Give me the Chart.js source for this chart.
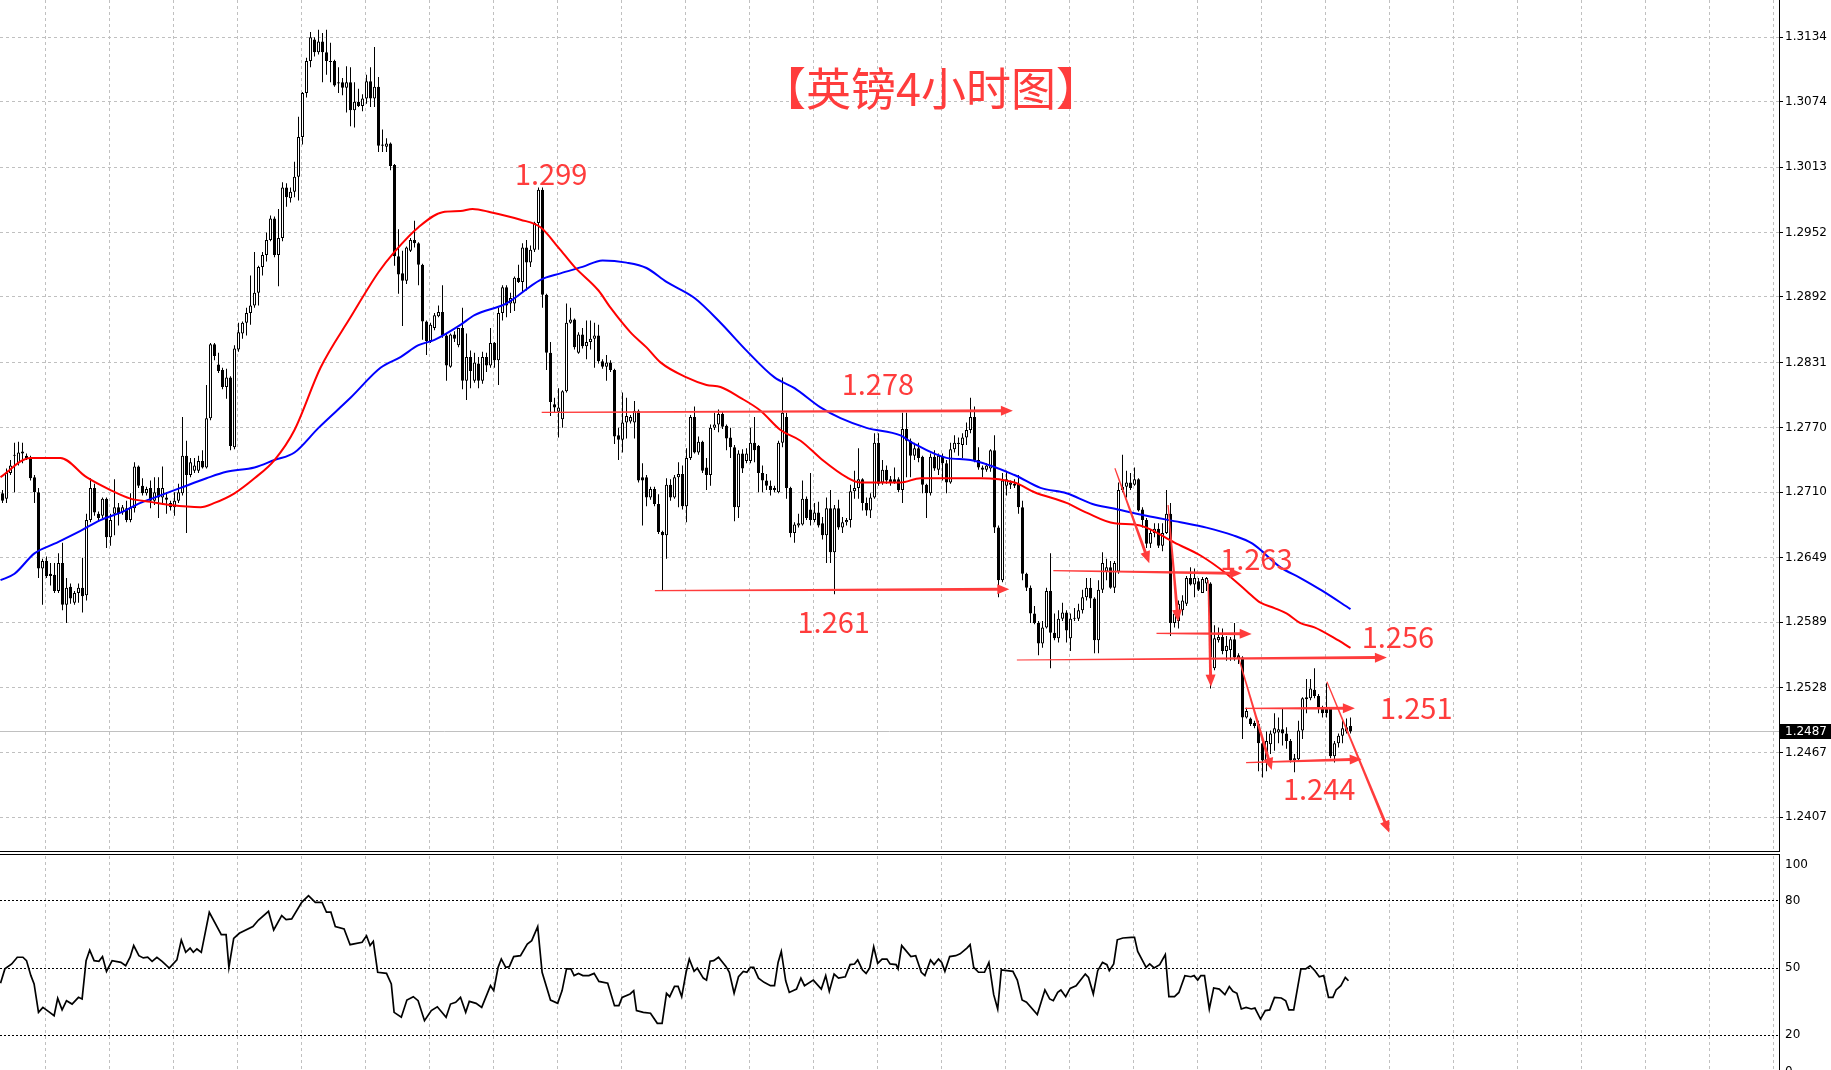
<!DOCTYPE html>
<html lang="zh-CN">
<head>
<meta charset="utf-8">
<title>英镑4小时图</title>
<script src="https://cdn.jsdelivr.net/npm/chart.js@4.4.1/dist/chart.umd.min.js"></script>
<style>
  html, body { margin: 0; padding: 0; background: #fff; overflow: hidden; }
  canvas { display: block; }
  #mainBox { position: absolute; left: 0; top: 0; }
  #rsiBox { position: absolute; left: 0; top: 853px; }
</style>
</head>
<body>
<div id="mainBox"><canvas id="priceChart" width="1831" height="852"></canvas></div>
<div id="rsiBox"><canvas id="rsiChart" width="1831" height="227"></canvas></div>
<script>
'use strict';

// GBPUSD H4 candles (one entry per bar)
const opens = [
  1.2709,1.2704,1.2728,1.2744,1.2737,1.2746,1.2744,1.2742,1.2724,1.2710,
  1.2639,1.2646,1.2634,1.2633,1.2618,1.2644,1.2605,1.2622,1.2607,1.2616,
  1.2621,1.2614,1.2684,1.2714,1.2690,1.2688,1.2704,1.2668,1.2690,1.2696,
  1.2691,1.2695,1.2684,1.2695,1.2734,1.2716,1.2709,1.2714,1.2702,1.2714,
  1.2705,1.2705,1.2700,1.2696,1.2702,1.2709,1.2744,1.2726,1.2730,1.2730,
  1.2739,1.2733,1.2779,1.2848,1.2829,1.2824,1.2808,1.2817,1.2752,1.2843,
  1.2858,1.2868,1.2877,1.2884,1.2896,1.2920,1.2931,1.2945,1.2965,1.2931,
  1.2947,1.2994,1.2984,1.2990,1.3004,1.3041,1.3082,1.3112,1.3132,1.3120,
  1.3130,1.3120,1.3112,1.3112,1.3092,1.3092,1.3087,1.3092,1.3066,1.3074,
  1.3070,1.3077,1.3093,1.3077,1.3088,1.3034,1.3032,1.3035,1.3015,1.2930,
  1.2914,1.2907,1.2935,1.2945,1.2942,1.2922,1.2869,1.2851,1.2863,1.2874,
  1.2878,1.2856,1.2827,1.2857,1.2847,1.2863,1.2814,1.2836,1.2814,1.2830,
  1.2814,1.2836,1.2828,1.2849,1.2833,1.2877,1.2901,1.2886,1.2886,1.2910,
  1.2906,1.2938,1.2924,1.2936,1.2961,1.2992,1.2894,1.2840,1.2792,1.2785,
  1.2778,1.2804,1.2868,1.2871,1.2840,1.2857,1.2846,1.2850,1.2853,1.2856,
  1.2832,1.2827,1.2831,1.2824,1.2763,1.2759,1.2775,1.2776,1.2775,1.2786,
  1.2724,1.2724,1.2705,1.2713,1.2699,1.2673,1.2670,1.2717,1.2705,1.2724,
  1.2727,1.2697,1.2742,1.2780,1.2747,1.2757,1.2733,1.2726,1.2770,1.2773,
  1.2783,1.2772,1.2761,1.2752,1.2696,1.2746,1.2739,1.2739,1.2756,1.2753,
  1.2728,1.2721,1.2716,1.2712,1.2710,1.2756,1.2780,1.2714,1.2672,1.2679,
  1.2680,1.2704,1.2694,1.2684,1.2691,1.2681,1.2670,1.2695,1.2654,1.2695,
  1.2677,1.2682,1.2684,1.2711,1.2714,1.2722,1.2700,1.2693,1.2705,1.2756,
  1.2719,1.2731,1.2722,1.2722,1.2722,1.2712,1.2769,1.2758,1.2744,1.2751,
  1.2743,1.2717,1.2709,1.2743,1.2731,1.2743,1.2737,1.2719,1.2750,1.2756,
  1.2754,1.2761,1.2768,1.2780,1.2740,1.2733,1.2731,1.2732,1.2749,1.2677,
  1.2628,1.2716,1.2717,1.2716,1.2718,1.2696,1.2634,1.2621,1.2597,1.2588,
  1.2569,1.2584,1.2618,1.2579,1.2574,1.2592,1.2598,1.2574,1.2592,1.2592,
  1.2600,1.2612,1.2621,1.2611,1.2572,1.2619,1.2636,1.2640,1.2621,1.2636,
  1.2712,1.2715,1.2719,1.2717,1.2722,1.2694,1.2684,1.2662,1.2672,1.2676,
  1.2660,1.2672,1.2690,1.2588,1.2590,1.2600,1.2606,1.2630,1.2624,1.2627,
  1.2616,1.2625,1.2625,1.2546,1.2572,1.2575,1.2562,1.2563,1.2573,1.2558,
  1.2556,1.2500,1.2499,1.2495,1.2494,1.2476,1.2460,1.2475,1.2485,1.2486,
  1.2489,1.2485,1.2478,1.2460,1.2461,1.2488,1.2517,1.2518,1.2526,1.2520,
  1.2509,1.2508,1.2508,1.2464,1.2476,1.2483,1.2487,1.2492
];
const highs = [
  1.2712,1.2732,1.2740,1.2756,1.2757,1.2756,1.2746,1.2744,1.2726,1.2714,
  1.2648,1.2650,1.2644,1.2644,1.2653,1.2663,1.2630,1.2625,1.2618,1.2625,
  1.2649,1.2690,1.2723,1.2718,1.2692,1.2705,1.2705,1.2690,1.2722,1.2700,
  1.2698,1.2702,1.2709,1.2738,1.2735,1.2723,1.2715,1.2721,1.2724,1.2724,
  1.2734,1.2710,1.2702,1.2710,1.2718,1.2780,1.2758,1.2742,1.2742,1.2744,
  1.2749,1.2810,1.2849,1.2849,1.2840,1.2826,1.2825,1.2818,1.2847,1.2868,
  1.2869,1.2882,1.2912,1.2934,1.2921,1.2934,1.2952,1.2968,1.2967,1.2974,
  1.2999,1.2998,1.2994,1.3018,1.3060,1.3083,1.3115,1.3139,1.3134,1.3141,
  1.3138,1.3141,1.3129,1.3113,1.3106,1.3096,1.3107,1.3106,1.3092,1.3086,
  1.3081,1.3099,1.3106,1.3125,1.3097,1.3048,1.3040,1.3036,1.3016,1.2955,
  1.2935,1.2939,1.2947,1.2963,1.2943,1.2923,1.2870,1.2868,1.2877,1.2884,
  1.2903,1.2858,1.2858,1.2860,1.2863,1.2882,1.2858,1.2842,1.2840,1.2836,
  1.2841,1.2840,1.2863,1.2850,1.2882,1.2903,1.2903,1.2896,1.2911,1.2922,
  1.2942,1.2945,1.2940,1.2962,1.2994,1.2994,1.2895,1.2850,1.2798,1.2807,
  1.2805,1.2886,1.2882,1.2872,1.2859,1.2863,1.2870,1.2870,1.2868,1.2866,
  1.2834,1.2838,1.2833,1.2825,1.2770,1.2803,1.2798,1.2782,1.2795,1.2787,
  1.2737,1.2726,1.2715,1.2715,1.2708,1.2674,1.2723,1.2722,1.2726,1.2738,
  1.2735,1.2751,1.2782,1.2790,1.2762,1.2758,1.2742,1.2773,1.2784,1.2787,
  1.2785,1.2773,1.2770,1.2754,1.2749,1.2750,1.2751,1.2770,1.2780,1.2754,
  1.2735,1.2727,1.2721,1.2716,1.2758,1.2817,1.2784,1.2715,1.2682,1.2690,
  1.2721,1.2706,1.2728,1.2700,1.2701,1.2687,1.2705,1.2712,1.2698,1.2703,
  1.2687,1.2686,1.2717,1.2730,1.2751,1.2723,1.2705,1.2709,1.2765,1.2765,
  1.2740,1.2735,1.2725,1.2733,1.2724,1.2784,1.2784,1.2760,1.2756,1.2756,
  1.2744,1.2718,1.2746,1.2749,1.2746,1.2746,1.2740,1.2756,1.2763,1.2761,
  1.2765,1.2775,1.2798,1.2790,1.2752,1.2735,1.2737,1.2750,1.2763,1.2679,
  1.2728,1.2730,1.2721,1.2722,1.2726,1.2702,1.2635,1.2623,1.2604,1.2590,
  1.2590,1.2621,1.2653,1.2597,1.2600,1.2607,1.2600,1.2597,1.2602,1.2606,
  1.2619,1.2630,1.2630,1.2612,1.2628,1.2654,1.2648,1.2646,1.2646,1.2719,
  1.2745,1.2730,1.2728,1.2733,1.2723,1.2696,1.2686,1.2675,1.2681,1.2681,
  1.2681,1.2712,1.2700,1.2600,1.2609,1.2614,1.2632,1.2640,1.2639,1.2630,
  1.2631,1.2631,1.2626,1.2586,1.2584,1.2583,1.2576,1.2575,1.2588,1.2560,
  1.2557,1.2509,1.2500,1.2497,1.2497,1.2478,1.2487,1.2488,1.2504,1.2500,
  1.2508,1.2491,1.2480,1.2466,1.2497,1.2519,1.2536,1.2536,1.2546,1.2522,
  1.2511,1.2532,1.2509,1.2478,1.2485,1.2497,1.2499,1.2500
];
const lows = [
  1.2700,1.2700,1.2726,1.2710,1.2735,1.2737,1.2740,1.2721,1.2700,1.2630,
  1.2605,1.2630,1.2623,1.2616,1.2616,1.2600,1.2588,1.2606,1.2605,1.2607,
  1.2598,1.2609,1.2682,1.2688,1.2684,1.2686,1.2658,1.2660,1.2670,1.2679,
  1.2689,1.2682,1.2682,1.2691,1.2714,1.2707,1.2707,1.2695,1.2698,1.2686,
  1.2698,1.2690,1.2693,1.2688,1.2700,1.2707,1.2672,1.2724,1.2728,1.2728,
  1.2732,1.2732,1.2777,1.2833,1.2821,1.2806,1.2797,1.2749,1.2750,1.2841,
  1.2853,1.2856,1.2866,1.2882,1.2884,1.2912,1.2925,1.2944,1.2929,1.2902,
  1.2944,1.2976,1.2980,1.2985,1.2982,1.3034,1.3078,1.3106,1.3116,1.3118,
  1.3092,1.3099,1.3092,1.3088,1.3082,1.3080,1.3064,1.3051,1.3050,1.3069,
  1.3065,1.3072,1.3069,1.3069,1.3027,1.3027,1.3027,1.3010,1.2921,1.2895,
  1.2865,1.2904,1.2934,1.2938,1.2903,1.2852,1.2838,1.2849,1.2861,1.2873,
  1.2854,1.2814,1.2826,1.2850,1.2845,1.2806,1.2796,1.2807,1.2812,1.2807,
  1.2811,1.2822,1.2826,1.2826,1.2810,1.2870,1.2873,1.2877,1.2879,1.2905,
  1.2896,1.2898,1.2920,1.2934,1.2936,1.2882,1.2824,1.2781,1.2784,1.2761,
  1.2770,1.2803,1.2867,1.2843,1.2839,1.2844,1.2834,1.2843,1.2826,1.2830,
  1.2825,1.2814,1.2822,1.2755,1.2740,1.2747,1.2760,1.2774,1.2760,1.2719,
  1.2679,1.2697,1.2703,1.2697,1.2671,1.2618,1.2648,1.2702,1.2704,1.2696,
  1.2694,1.2682,1.2740,1.2746,1.2745,1.2728,1.2712,1.2716,1.2768,1.2766,
  1.2769,1.2749,1.2742,1.2683,1.2686,1.2728,1.2737,1.2737,1.2738,1.2710,
  1.2710,1.2712,1.2707,1.2710,1.2709,1.2752,1.2704,1.2668,1.2663,1.2677,
  1.2679,1.2684,1.2679,1.2682,1.2677,1.2666,1.2644,1.2644,1.2615,1.2675,
  1.2672,1.2679,1.2677,1.2704,1.2704,1.2693,1.2688,1.2686,1.2704,1.2716,
  1.2717,1.2718,1.2716,1.2718,1.2710,1.2700,1.2724,1.2724,1.2740,1.2738,
  1.2709,1.2686,1.2707,1.2730,1.2726,1.2721,1.2709,1.2718,1.2747,1.2744,
  1.2742,1.2754,1.2765,1.2738,1.2731,1.2724,1.2729,1.2729,1.2672,1.2612,
  1.2626,1.2707,1.2713,1.2714,1.2690,1.2628,1.2618,1.2588,1.2587,1.2558,
  1.2565,1.2583,1.2546,1.2572,1.2570,1.2590,1.2570,1.2562,1.2590,1.2590,
  1.2597,1.2609,1.2602,1.2560,1.2560,1.2616,1.2628,1.2620,1.2616,1.2634,
  1.2710,1.2705,1.2712,1.2716,1.2692,1.2677,1.2658,1.2658,1.2668,1.2658,
  1.2655,1.2671,1.2576,1.2584,1.2583,1.2595,1.2604,1.2623,1.2612,1.2618,
  1.2616,1.2618,1.2527,1.2544,1.2570,1.2559,1.2553,1.2553,1.2553,1.2550,
  1.2480,1.2499,1.2492,1.2490,1.2450,1.2444,1.2450,1.2466,1.2469,1.2476,
  1.2474,1.2471,1.2458,1.2449,1.2459,1.2480,1.2504,1.2516,1.2518,1.2504,
  1.2500,1.2500,1.2462,1.2458,1.2472,1.2476,1.2485,1.2485
];
const closes = [
  1.2702,1.2728,1.2735,1.2745,1.2747,1.2748,1.2742,1.2723,1.2710,1.2639,
  1.2646,1.2632,1.2632,1.2618,1.2644,1.2605,1.2621,1.2611,1.2616,1.2621,
  1.2613,1.2684,1.2714,1.2691,1.2686,1.2704,1.2668,1.2684,1.2696,1.2690,
  1.2696,1.2684,1.2696,1.2734,1.2716,1.2709,1.2713,1.2702,1.2710,1.2705,
  1.2714,1.2703,1.2696,1.2702,1.2710,1.2744,1.2726,1.2738,1.2735,1.2739,
  1.2733,1.2779,1.2848,1.2837,1.2823,1.2808,1.2817,1.2753,1.2844,1.2859,
  1.2868,1.2877,1.2884,1.2896,1.2920,1.2931,1.2945,1.2965,1.2931,1.2947,
  1.2994,1.2985,1.2990,1.3004,1.3041,1.3082,1.3112,1.3134,1.3120,1.3130,
  1.3120,1.3112,1.3111,1.3089,1.3091,1.3087,1.3092,1.3066,1.3074,1.3070,
  1.3077,1.3093,1.3077,1.3088,1.3033,1.3033,1.3035,1.3014,1.2930,1.2913,
  1.2907,1.2938,1.2945,1.2942,1.2922,1.2869,1.2851,1.2866,1.2875,1.2878,
  1.2856,1.2828,1.2857,1.2853,1.2863,1.2814,1.2836,1.2823,1.2831,1.2814,
  1.2836,1.2828,1.2849,1.2833,1.2877,1.2901,1.2884,1.2891,1.2910,1.2906,
  1.2938,1.2924,1.2936,1.2961,1.2992,1.2894,1.2840,1.2794,1.2789,1.2789,
  1.2804,1.2868,1.2871,1.2845,1.2857,1.2846,1.2850,1.2853,1.2856,1.2832,
  1.2827,1.2831,1.2824,1.2762,1.2759,1.2775,1.2781,1.2780,1.2786,1.2721,
  1.2721,1.2705,1.2713,1.2699,1.2673,1.2670,1.2717,1.2705,1.2724,1.2727,
  1.2697,1.2742,1.2780,1.2747,1.2757,1.2730,1.2726,1.2770,1.2773,1.2783,
  1.2771,1.2760,1.2752,1.2696,1.2746,1.2732,1.2746,1.2756,1.2749,1.2728,
  1.2721,1.2716,1.2712,1.2714,1.2756,1.2784,1.2714,1.2672,1.2680,1.2681,
  1.2704,1.2686,1.2684,1.2691,1.2679,1.2670,1.2695,1.2654,1.2695,1.2677,
  1.2682,1.2684,1.2711,1.2714,1.2722,1.2700,1.2693,1.2705,1.2756,1.2718,
  1.2731,1.2721,1.2719,1.2719,1.2712,1.2769,1.2758,1.2744,1.2751,1.2742,
  1.2717,1.2709,1.2743,1.2732,1.2744,1.2737,1.2719,1.2750,1.2756,1.2755,
  1.2761,1.2768,1.2780,1.2740,1.2733,1.2731,1.2735,1.2749,1.2677,1.2628,
  1.2721,1.2722,1.2719,1.2718,1.2696,1.2634,1.2621,1.2597,1.2588,1.2569,
  1.2584,1.2618,1.2579,1.2574,1.2592,1.2598,1.2581,1.2592,1.2593,1.2600,
  1.2612,1.2621,1.2611,1.2572,1.2619,1.2644,1.2640,1.2621,1.2644,1.2712,
  1.2715,1.2719,1.2714,1.2722,1.2693,1.2684,1.2662,1.2672,1.2676,1.2660,
  1.2672,1.2690,1.2588,1.2597,1.2606,1.2609,1.2630,1.2624,1.2630,1.2619,
  1.2629,1.2630,1.2556,1.2574,1.2575,1.2562,1.2567,1.2573,1.2556,1.2555,
  1.2500,1.2506,1.2494,1.2492,1.2476,1.2460,1.2478,1.2485,1.2490,1.2489,
  1.2485,1.2478,1.2460,1.2462,1.2488,1.2518,1.2519,1.2527,1.2520,1.2508,
  1.2504,1.2504,1.2464,1.2476,1.2483,1.2490,1.2491,1.2487
];

// moving averages (red fast, blue slow), vertices read at bar positions
const redMaIdx = [-0.5,7,14.5,21,27,32,37,42,49.5,53,58,63,68,73,79.5,87,94,98,104,110,114.5,117.5,122,129.5,134.5,139,143,149,152,157,161,164.5,171,176,179.5,184.5,189.5,194.5,199.5,205,211,214.5,224.5,229.5,244.5,253,258,266,271,278,283,286,293,299.5,306,311,314.5,318,321,324.5,328,333,337];
const redMaVal = [1.2724,1.2742,1.2742,1.2724,1.2712,1.2704,1.2701,1.2698,1.2696,1.2700,1.2709,1.2723,1.2740,1.2768,1.2826,1.2873,1.2915,1.2934,1.2957,1.2971,1.2972,1.2974,1.2971,1.2964,1.2957,1.2938,1.2920,1.2898,1.2882,1.2859,1.2845,1.2831,1.2817,1.2810,1.2808,1.2798,1.2786,1.2768,1.2758,1.2740,1.2724,1.2719,1.2719,1.2723,1.2723,1.2719,1.2710,1.2700,1.2691,1.2681,1.2680,1.2677,1.2663,1.2651,1.2634,1.2618,1.2607,1.2602,1.2597,1.2588,1.2584,1.2574,1.2565];
const blueMaIdx = [-0.5,3,8,13,19.5,24.5,29.5,34.5,39.5,44.5,51,56,63,68,73,79,87,94.5,99.5,104,108,114.5,118,126,134.5,139.5,145,150,156,161,166,173,179.5,186,193,198,204.5,209.5,216,224.5,227.5,236,242,253,259.5,266,272.5,277.5,286,294.5,301,307.5,312.5,319.5,324.5,330,337];
const blueMaVal = [1.2628,1.2634,1.2653,1.2662,1.2674,1.2684,1.2691,1.2700,1.2707,1.2714,1.2723,1.2729,1.2733,1.2740,1.2747,1.2770,1.2798,1.2826,1.2836,1.2847,1.2852,1.2866,1.2875,1.2886,1.2908,1.2914,1.2920,1.2926,1.2924,1.2919,1.2906,1.2891,1.2868,1.2842,1.2817,1.2807,1.2789,1.2779,1.2770,1.2763,1.2756,1.2742,1.2740,1.2726,1.2714,1.2709,1.2699,1.2695,1.2688,1.2682,1.2677,1.2670,1.2662,1.2640,1.2630,1.2618,1.2601];

// RSI sub-window, vertices of the line
const rsiIdx = [-0.5,0.6,2.3,3.7,5.1,6,7.1,7.9,9,10.1,11.8,12.9,13.8,14.9,16,17.4,19,19.9,20.9,21.8,22.9,24.1,25,26,27.4,29.6,30.8,31.9,32.8,34.1,35.2,36.3,37.4,38.6,39.9,41.7,43.6,44.7,45.8,46.9,47.7,48.6,49.7,51.7,54.7,55.9,56.6,57.8,59.2,62.6,64,66.5,67.8,69.8,70.9,72.3,74.8,76.5,78.2,79.9,81,82.1,83.2,85.4,86.9,89.9,91,91.9,92.7,93.8,96,97.2,97.9,99.7,101.1,102.7,103.9,105.5,107.2,108.7,110.9,112,113.3,114.5,115.8,116.7,118.4,119.8,122,122.8,123.9,124.7,125.8,126.7,127.8,129.5,131.2,132.3,133.8,134.9,137,138.8,139.9,141,142.1,142.9,144,145.1,146.6,147.9,149.1,151.3,153,154.1,154.9,156.9,157.8,158.5,160.2,162,163.7,164.9,166,166.8,168,168.9,169.8,170.9,171.7,172.9,173.7,175.2,176,176.9,177.8,179,180.9,181.7,182.9,184,185.2,186.1,187,187.8,189,190.4,192,193,193.9,194.7,195.8,196.7,198.5,199.6,200.5,202.7,204.7,205.8,206.7,207.9,209,210.7,211.9,213,213.8,215,215.9,216.8,217.8,218.8,219.9,221.1,221.9,223.4,223.9,224.8,227.1,228.3,229.7,230.6,232,232.9,234,234.8,235.6,236.8,238.3,239.4,241.1,241.9,242.8,244,245.5,246.6,247.8,248.8,249.7,252.6,253.7,254.9,256,258.7,260.6,261.8,262.7,263.8,264.6,265.8,266.9,268.4,270.7,271.5,272.7,273.8,275,276.1,276.7,277.8,278.7,280.1,282.2,283,283.8,285.9,286.8,287.9,289.3,290.7,291.6,293,294.1,295.6,297.1,297.9,298.8,299.6,300.5,301.7,302.8,304.2,305.6,306.7,307.6,308.6,309.7,310.9,312.2,313.1,314.5,315.7,316.8,318,319.7,320.8,321.6,322.8,324.6,325.8,326.9,328.1,329.2,330.3,331.5,332.6,333.4,334.6,335.7,336.5];
const rsiVal = [43.2,49.6,51.8,54.8,54.8,53.3,46.6,42.9,30.2,32.4,30.2,28.7,36.5,31.3,35.4,33.9,36.9,36.2,53.3,58.0,53.3,53.0,55.1,48.5,53.3,52.5,51.0,54.8,60.0,55.5,54.5,54.8,53.0,54.8,53.0,50.0,53.6,62.5,57.0,58.9,57.0,58.5,57.0,74.9,64.9,64.9,50.3,63.2,65.5,68.5,71.4,75.3,67.0,73.4,71.6,71.9,79.3,82.3,79.3,79.3,74.9,74.9,68.5,67.4,60.4,61.5,64.4,60.0,61.9,48.1,47.6,42.9,30.2,28.0,35.7,37.2,35.4,26.5,31.0,32.7,28.0,33.9,34.7,36.9,30.2,35.1,34.2,32.4,42.1,39.9,50.3,54.0,50.3,50.6,55.1,55.5,60.7,62.2,68.5,48.1,35.7,34.2,39.9,49.6,49.6,46.6,47.6,46.6,46.6,47.6,44.0,43.2,33.2,33.2,36.9,38.4,39.9,31.0,30.2,29.8,25.3,25.3,38.7,37.2,41.8,41.8,37.2,48.1,54.0,48.5,49.9,45.5,44.6,53.0,53.3,54.8,50.6,48.1,38.7,46.1,48.5,48.1,50.3,50.3,45.5,43.6,42.1,42.1,52.5,57.4,44.3,39.1,40.6,45.5,42.1,44.6,40.6,46.6,39.6,47.3,45.5,46.1,51.5,51.8,53.6,49.1,47.6,50.0,59.5,52.1,54.0,54.0,51.8,51.5,49.6,60.0,55.1,55.5,48.1,46.6,53.6,51.5,54.0,52.5,48.5,55.1,55.5,56.3,58.9,60.4,50.3,48.1,48.1,52.5,38.1,31.7,49.1,48.5,44.6,35.7,34.7,29.2,40.2,36.2,35.4,39.1,40.2,37.2,40.9,42.1,47.3,45.8,38.4,48.8,52.5,51.5,48.8,51.8,62.6,63.4,63.7,63.7,57.4,50.3,51.8,50.0,51.5,56.0,37.2,37.2,39.1,46.6,46.1,46.6,44.6,46.6,46.6,31.7,41.1,40.6,38.1,41.7,39.6,38.7,31.7,32.4,31.7,32.1,27.2,31.0,31.3,36.9,36.6,35.4,31.3,31.3,49.6,49.6,51.0,48.8,46.1,46.6,36.9,36.9,40.2,42.1,45.8,44.3];

const priceTickLabels = ['1.3134','1.3074','1.3013','1.2952','1.2892','1.2831','1.2770','1.2710','1.2649','1.2589','1.2528','1.2467','1.2407'];
const rsiTicks = [0, 20, 50, 80, 100];

// hand-drawn annotations: text anchored at (bar, price), arrows from/to (bar, price)
const noteText = ['1.299', '1.278', '1.261', '1.263', '1.256', '1.251', '1.244'];
const noteIdx = [128.1, 209.8, 198.75, 304.4, 339.8, 344.4, 320.1];
const notePrice = [1.30066, 1.28109, 1.25887, 1.26478, 1.25746, 1.25093, 1.24334];
const arrowFromIdx = [134.8, 163.1, 262.7, 278.1, 291.4, 288.5, 253.6, 301.4, 308.95, 310.6, 310.9, 331.1];
const arrowFromPrice = [1.27845, 1.26182, 1.26369, 1.27323, 1.26981, 1.25785, 1.25536, 1.26282, 1.25567, 1.25086, 1.24579, 1.25334];
const arrowToIdx = [252.6, 251.7, 309.8, 286.7, 293.9, 312.3, 346.1, 302.1, 317.3, 338.1, 339.8, 346.7];
const arrowToPrice = [1.27860, 1.26195, 1.26344, 1.26437, 1.25893, 1.25779, 1.25559, 1.25287, 1.24511, 1.25086, 1.24611, 1.23927];

const TITLE = '【英镑4小时图】';

// bar i sits at pixel 4*i + 2.5 on a 1779px plot
const X_MIN = -0.625;
const X_MAX = 444.125;
const P_MAX = 1.316877;
const P_MIN = 1.237559;
const AXIS_W = 52;
const RED = '#ff3c3c';
const GRID = '#c0c0c0';
const AXIS_FONT = { family: 'DejaVu Sans', size: 12 };

function xy(xs, ys) {
  return xs.map((x, k) => ({ x, y: ys[k] }));
}

/** Flecha roja con el trazo algo más grueso hacia la punta */
function drawArrow(ctx, x0, y0, x1, y1) {
  const len = Math.hypot(x1 - x0, y1 - y0);
  const head = 12, half = 5;
  ctx.save();
  ctx.translate(x0, y0);
  ctx.rotate(Math.atan2(y1 - y0, x1 - x0));
  ctx.beginPath();
  ctx.moveTo(0, -0.6);
  ctx.lineTo(len - head + 1, -1.5);
  ctx.lineTo(len - head + 1, 1.5);
  ctx.lineTo(0, 0.6);
  ctx.closePath();
  ctx.fill();
  ctx.beginPath();
  ctx.moveTo(len, 0);
  ctx.lineTo(len - head, -half);
  ctx.lineTo(len - head, half);
  ctx.closePath();
  ctx.fill();
  ctx.restore();
}

function sharedX() {
  return {
    type: 'linear',
    min: X_MIN,
    max: X_MAX,
    offset: false,
    afterBuildTicks: s => {
      s.ticks = Array.from({ length: 28 }, (_, k) => ({ value: 10.75 + 16 * k }));
    },
    afterFit: s => { s.height = 0; s.paddingLeft = 0; s.paddingRight = 0; },
    ticks: { display: false },
    grid: { color: GRID, drawTicks: false, offset: false },
    border: { display: false, dash: [3, 3] }
  };
}

const priceOverlay = {
  id: 'priceOverlay',
  beforeDatasetsDraw(chart) {
    const { ctx, chartArea: a, scales: { y } } = chart;
    const py = Math.round(y.getPixelForValue(closes[closes.length - 1])) + 0.5;
    ctx.save();
    ctx.strokeStyle = GRID;
    ctx.lineWidth = 1;
    ctx.beginPath();
    ctx.moveTo(a.left, py);
    ctx.lineTo(a.right, py);
    ctx.stroke();
    ctx.restore();
  },
  afterDatasetsDraw(chart) {
    const { ctx, scales: { x, y } } = chart;
    ctx.save();
    ctx.fillStyle = RED;
    arrowFromIdx.forEach((_, k) => {
      drawArrow(ctx,
        x.getPixelForValue(arrowFromIdx[k]), y.getPixelForValue(arrowFromPrice[k]),
        x.getPixelForValue(arrowToIdx[k]), y.getPixelForValue(arrowToPrice[k]));
    });
    ctx.font = '29px "Noto Sans CJK SC"';
    ctx.textAlign = 'left';
    ctx.textBaseline = 'middle';
    noteText.forEach((t, k) => {
      ctx.fillText(t, x.getPixelForValue(noteIdx[k]), y.getPixelForValue(notePrice[k]));
    });
    ctx.font = '45px "Noto Sans CJK SC"';
    ctx.textAlign = 'center';
    ctx.fillText(TITLE, 931, 89);
    ctx.restore();
  },
  afterDraw(chart) {
    const { ctx, chartArea: a, scales: { y } } = chart;
    const last = closes[closes.length - 1];
    const py = Math.round(y.getPixelForValue(last));
    ctx.save();
    ctx.fillStyle = '#000';
    ctx.fillRect(0, a.bottom, a.right + 1, 1);
    ctx.fillRect(a.right + 1, py - 7, chart.width - a.right - 1, 15);
    ctx.fillStyle = '#fff';
    ctx.font = '12px "DejaVu Sans"';
    ctx.textAlign = 'left';
    ctx.textBaseline = 'middle';
    ctx.fillText(last.toFixed(4), a.right + 6, py + 0.5);
    ctx.restore();
  }
};

const rsiOverlay = {
  id: 'rsiOverlay',
  afterDraw(chart) {
    const { ctx, chartArea: a, scales: { y } } = chart;
    ctx.save();
    ctx.fillStyle = '#000';
    ctx.fillRect(0, 1, a.right + 1, 1);
    ctx.fillRect(a.right, 1, 1, chart.height);
    ctx.font = '12px "DejaVu Sans"';
    ctx.textAlign = 'left';
    ctx.textBaseline = 'middle';
    rsiTicks.forEach(v => {
      const py = Math.min(Math.max(y.getPixelForValue(v), a.top + 9), chart.height - 8);
      ctx.fillText(String(v), a.right + 6, py);
    });
    ctx.restore();
  }
};

new Chart(document.getElementById('priceChart'), {
  type: 'bar',
  data: {
    datasets: [
      {
        type: 'line', data: xy(redMaIdx, redMaVal), borderColor: '#ff0000', borderWidth: 2,
        pointRadius: 0, cubicInterpolationMode: 'monotone'
      },
      {
        type: 'line', data: xy(blueMaIdx, blueMaVal), borderColor: '#0000ff', borderWidth: 2,
        pointRadius: 0, cubicInterpolationMode: 'monotone'
      },
      {
        type: 'bar',
        data: opens.map((o, i) => ({ x: i, y: [o, closes[i]] })),
        backgroundColor: opens.map((o, i) => (closes[i] > o ? '#ffffff' : '#000000')),
        borderColor: '#000000', borderWidth: 1, borderSkipped: false,
        barThickness: 3, minBarLength: 1, grouped: false, inflateAmount: 0
      },
      {
        type: 'bar',
        data: lows.map((l, i) => ({ x: i, y: [l, highs[i]] })),
        backgroundColor: '#000000', borderWidth: 0,
        barThickness: 1, grouped: false, inflateAmount: 0
      }
    ]
  },
  options: {
    responsive: false,
    animation: false,
    devicePixelRatio: 1,
    events: [],
    layout: { padding: { left: 0, right: 0, top: 0, bottom: 1 } },
    plugins: { legend: { display: false }, tooltip: { enabled: false } },
    scales: {
      x: sharedX(),
      y: {
        position: 'right',
        min: P_MIN,
        max: P_MAX,
        afterBuildTicks: s => { s.ticks = priceTickLabels.map(t => ({ value: Number(t) })); },
        afterFit: s => { s.width = AXIS_W; s.paddingTop = 0; s.paddingBottom = 0; },
        ticks: {
          autoSkip: false, padding: 2, color: '#000', font: AXIS_FONT,
          callback: (v, i) => priceTickLabels[i]
        },
        grid: { color: GRID, tickColor: '#000', tickLength: 4, tickBorderDash: [] },
        border: { display: true, color: '#000', width: 1, dash: [3, 3] }
      }
    }
  },
  plugins: [priceOverlay]
});

new Chart(document.getElementById('rsiChart'), {
  type: 'line',
  data: {
    datasets: [{
      data: xy(rsiIdx, rsiVal), borderColor: '#000000', borderWidth: 1.7,
      pointRadius: 0, tension: 0
    }]
  },
  options: {
    responsive: false,
    animation: false,
    devicePixelRatio: 1,
    events: [],
    layout: { padding: { left: 0, right: 0, top: 3, bottom: 0 } },
    plugins: { legend: { display: false }, tooltip: { enabled: false } },
    scales: {
      x: sharedX(),
      y: {
        position: 'right',
        min: 0,
        max: 100,
        afterBuildTicks: s => { s.ticks = rsiTicks.map(v => ({ value: v })); },
        afterFit: s => { s.width = AXIS_W; s.paddingTop = 0; s.paddingBottom = 0; },
        ticks: { display: false },
        grid: {
          drawTicks: false,
          color: c => (c.tick && c.tick.value > 0 && c.tick.value < 100 ? '#000000' : 'rgba(0,0,0,0)')
        },
        border: { display: true, color: '#000', width: 1, dash: [2, 2] }
      }
    }
  },
  plugins: [rsiOverlay]
});
</script>
</body>
</html>
